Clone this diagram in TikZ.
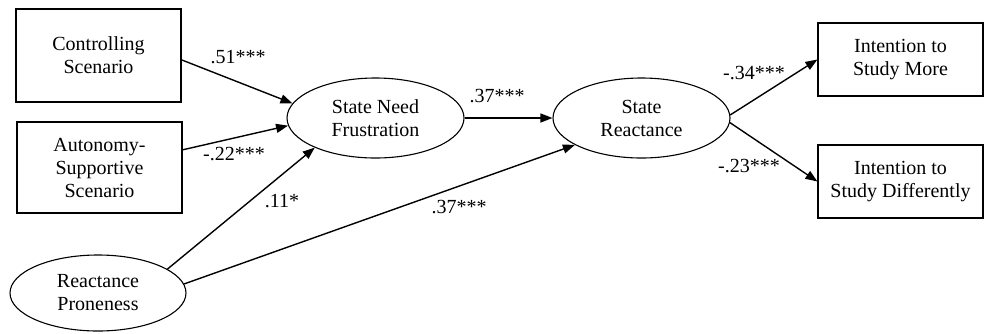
\documentclass[tikz,border=0pt]{standalone}
\usepackage{fontspec}
\setmainfont{Liberation Serif}
\usetikzlibrary{shapes.geometric,arrows.meta}
\begin{document}
\begin{tikzpicture}[x=1pt,y=-1pt,
  txt/.style={font=\fontsize{20}{23}\selectfont},
  box/.style={txt, draw, line width=1.1pt, minimum width=165pt, inner sep=0pt, align=center},
  oval/.style={txt, draw, ellipse, line width=1.1pt, inner sep=0pt, align=center},
  arr/.style={line width=1.4pt, -{Triangle[length=12pt,width=9pt]}},
  lab/.style={txt, inner sep=0pt}]
\useasboundingbox (0,0) rectangle (984,333);
\node[box, minimum height=93pt] (ctrl) at (98.5,55.5) {Controlling\\Scenario};
\node[box, minimum height=91pt] (aut) at (99.5,167.5) {Autonomy-\\Supportive\\Scenario};
\node[box, minimum height=73pt] (ism) at (900.5,59.5) {Intention to\\Study More};
\node[box, minimum height=73pt] (isd) at (900.5,181.5) {Intention to\\Study Differently};
\node[oval, minimum width=176pt, minimum height=76pt] (rp) at (98,293) {Reactance\\Proneness};
\node[oval, minimum width=177pt, minimum height=80pt] (nf) at (375.5,118) {State Need\\Frustration};
\node[oval, minimum width=177pt, minimum height=80pt] (sr) at (641.5,118) {State\\Reactance};
\draw[arr] (ctrl.-3) -- (nf.170);
\draw[arr] (aut.12) -- (nf.185);
\draw[arr] (rp.19) -- (nf.206);
\draw[arr] (rp.6) -- (sr.202);
\draw[arr] (nf.east) -- (sr.west);
\draw[arr] (sr.2) -- (ism.west);
\draw[arr] (sr.-3) -- (isd.west);
\node[lab] (l1) at (238,57) {.51***};
\node[lab] (l2) at (234,154) {-.22***};
\node[lab] (l3) at (282,201) {.11*};
\node[lab] (l4) at (459,207) {.37***};
\node[lab] (l5) at (497,96) {.37***};
\node[lab] (l6) at (754,73) {-.34***};
\node[lab] (l7) at (749,166) {-.23***};
\end{tikzpicture}
\end{document}
